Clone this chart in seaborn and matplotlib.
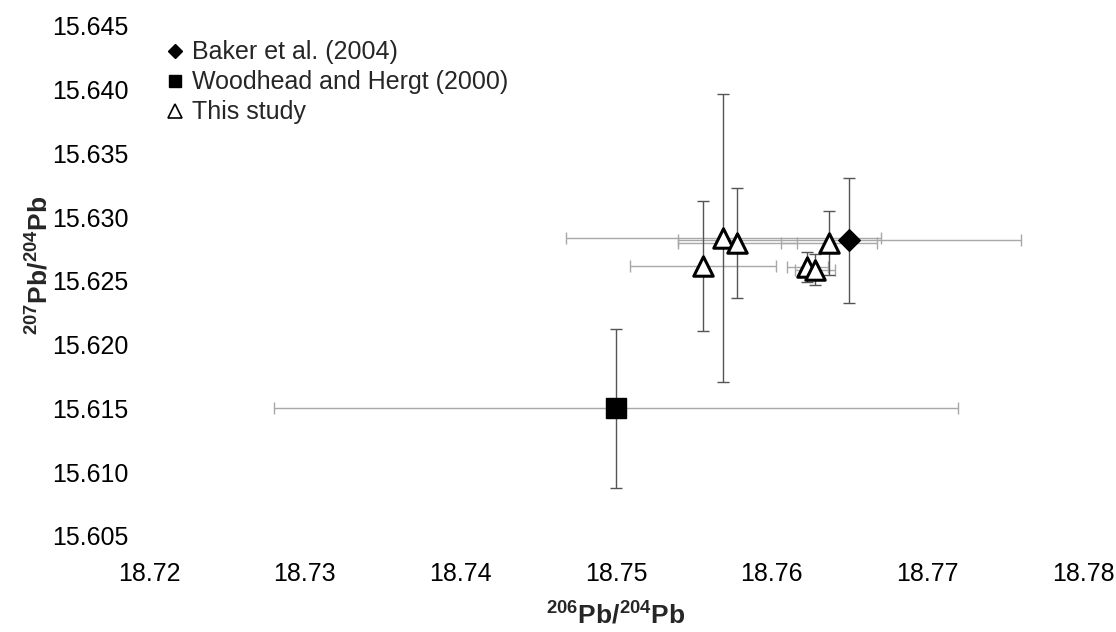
import matplotlib
matplotlib.use("Agg")
import matplotlib.pyplot as plt
from matplotlib.lines import Line2D
import seaborn as sns
import pandas as pd

# ---- data ----
baker_x = [18.7650]
baker_y = [15.6282]
baker_xerr = [0.0110]
baker_yerr = [0.0049]

wood_x = [18.7500]
wood_y = [15.6150]
wood_xerr = [0.0220]
wood_yerr = [0.0062]

study_x = [18.7556, 18.7569, 18.7578, 18.7637, 18.7623, 18.7628]
study_y = [15.6262, 15.6284, 15.6280, 15.6280, 15.6261, 15.6259]
study_xerr = [0.0047, 0.0101, 0.0038, 0.0031, 0.0013, 0.0013]
study_yerr = [0.0051, 0.0113, 0.0043, 0.0025, 0.0012, 0.0012]

x_ticks = [18.72, 18.73, 18.74, 18.75, 18.76, 18.77, 18.78]
y_ticks = [15.605, 15.610, 15.615, 15.620, 15.625, 15.630, 15.635, 15.640, 15.645]

labels = ["Baker et al. (2004)", "Woodhead and Hergt (2000)", "This study"]

sns.set_style("white")
plt.rcParams['font.family'] = ['Liberation Sans', 'DejaVu Sans']
plt.rcParams['mathtext.fontset'] = 'custom'
plt.rcParams['mathtext.rm'] = 'Liberation Sans'
plt.rcParams['mathtext.bf'] = 'Liberation Sans:bold'

fig = plt.figure(figsize=(11.16, 6.32), dpi=100)
ax = fig.add_axes([0.1335, 0.1519, 0.8369, 0.8070])

def bars(xs, ys, xe, ye):
    ax.errorbar(xs, ys, xerr=xe, fmt='none', ecolor='#a8a8a8', elinewidth=1.0,
                capsize=4.5, capthick=1.0, zorder=1)
    ax.errorbar(xs, ys, yerr=ye, fmt='none', ecolor='#555555', elinewidth=1.0,
                capsize=4.5, capthick=1.0, zorder=1)

bars(baker_x, baker_y, baker_xerr, baker_yerr)
bars(wood_x, wood_y, wood_xerr, wood_yerr)
bars(study_x, study_y, study_xerr, study_yerr)

df_b = pd.DataFrame({'x': baker_x, 'y': baker_y})
df_w = pd.DataFrame({'x': wood_x, 'y': wood_y})
df_s = pd.DataFrame({'x': study_x, 'y': study_y})

sns.scatterplot(data=df_s, x='x', y='y', ax=ax, marker='^', s=14**2,
                facecolor='white', edgecolor='black', linewidth=2.2, zorder=3)
sns.scatterplot(data=df_b, x='x', y='y', ax=ax, marker='D', s=11**2,
                color='black', edgecolor='black', linewidth=1.0, zorder=3)
sns.scatterplot(data=df_w, x='x', y='y', ax=ax, marker='s', s=14**2,
                color='black', edgecolor='black', linewidth=1.0, zorder=3)

ax.set_xlim(x_ticks[0], x_ticks[-1])
ax.set_ylim(y_ticks[0], y_ticks[-1])
ax.set_xticks(x_ticks)
ax.set_xticklabels([f"{v:.2f}" for v in x_ticks])
ax.set_yticks(y_ticks)
ax.set_yticklabels([f"{v:.3f}" for v in y_ticks])
ax.tick_params(axis='both', length=0, labelsize=18, colors='black')
ax.tick_params(axis='x', pad=19)
ax.tick_params(axis='y', pad=15)
for sp in ax.spines.values():
    sp.set_visible(False)

ax.set_xlabel(r'$\mathbf{^{206}Pb/^{204}Pb}$', fontsize=19)
ax.set_ylabel(r'$\mathbf{^{207}Pb/^{204}Pb}$', fontsize=19)
ax.xaxis.set_label_coords(0.5, -0.13)
ax.yaxis.set_label_coords(-0.103, 0.53)

handles = [
    Line2D([], [], linestyle='none', marker='D', markersize=7.2,
           markerfacecolor='black', markeredgecolor='black'),
    Line2D([], [], linestyle='none', marker='s', markersize=9.2,
           markerfacecolor='black', markeredgecolor='black'),
    Line2D([], [], linestyle='none', marker='^', markersize=10.5,
           markerfacecolor='white', markeredgecolor='black', markeredgewidth=1.2),
]
ax.legend(handles, labels, loc='upper left', bbox_to_anchor=(0.017, 0.972),
          frameon=False, fontsize=18, handlelength=0.8, handletextpad=0.28,
          labelspacing=0.24, borderaxespad=0.0, borderpad=0.0)

fig.savefig("out.png", dpi=100)
